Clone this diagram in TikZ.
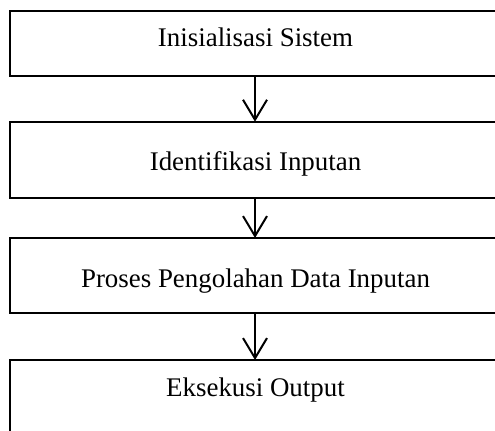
\documentclass[tikz,border=0pt]{standalone}
\usepackage{fontspec}
\setmainfont{Liberation Serif}
\usetikzlibrary{arrows.meta}
\begin{document}
\begin{tikzpicture}[x=1bp,y=-1bp,
  box/.style={draw=black, line width=2bp, rectangle, inner sep=0pt, outer sep=0pt,
    anchor=north west, minimum width=490bp, fill=none},
  label/.style={anchor=base, inner sep=0pt, font=\fontsize{27}{32}\selectfont},
  flow/.style={line width=2bp, -{Straight Barb[length=20bp,width=24bp,line width=2bp]}}]
\useasboundingbox (0,0) rectangle (495,430);
\clip (0,0) rectangle (495,430);
\node[box, minimum height=65bp] (b1) at (10,11) {};
\node[box, minimum height=76bp] (b2) at (10,121.7) {};
\node[box, minimum height=75bp] (b3) at (10,238) {};
\node[box, minimum height=80bp] (b4) at (10,360) {};
\node[label] (t1) at (255.5,46) {Inisialisasi Sistem};
\node[label] (t2) at (255.5,170) {Identifikasi Inputan};
\node[label] (t3) at (255.5,287) {Proses Pengolahan Data Inputan};
\node[label] (t4) at (255.5,396) {Eksekusi Output};
\draw[flow] (b1.south) -- (b2.north);
\draw[flow] (b2.south) -- (b3.north);
\draw[flow] (b3.south) -- (b4.north);
\end{tikzpicture}
\end{document}
